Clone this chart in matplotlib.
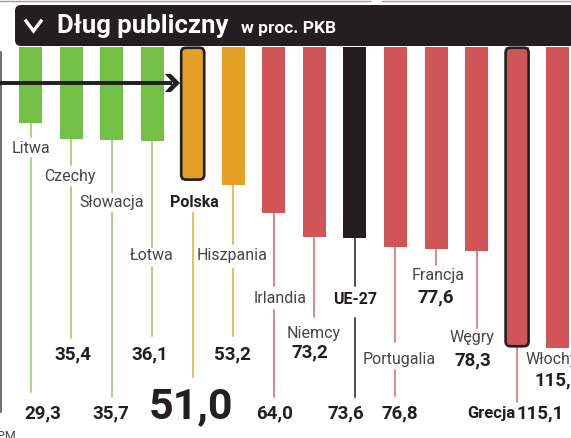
import matplotlib
matplotlib.use("Agg")
import matplotlib.pyplot as plt
import matplotlib.transforms as mtransforms
from matplotlib.patches import FancyBboxPatch, Polygon

plt.rcParams["font.family"] = ["Roboto", "DejaVu Sans"]

countries = ["Litwa", "Czechy", "Słowacja", "Łotwa", "Polska", "Hiszpania", "Irlandia",
             "Niemcy", "UE-27", "Portugalia", "Francja", "Węgry", "Grecja", "Włochy"]
values = [29.3, 35.4, 35.7, 36.1, 51.0, 53.2, 64.0, 73.2, 73.6, 76.8, 77.6, 78.3, 115.1, 115.8]
groups = ["low", "low", "low", "low", "mid", "mid", "high", "high", "eu", "high", "high",
          "high", "high", "high"]
highlighted = ["Polska", "Grecja"]
bold_names = ["Polska", "UE-27", "Grecja"]

title = "Dług publiczny"
subtitle = "w proc. PKB"

BAR = {"low": "#74bf45", "mid": "#e4a125", "high": "#d15557", "eu": "#231f20"}
LINE = {"low": "#8ccd63", "mid": "#e8a531", "high": "#d9676a", "eu": "#231f20"}
DARK = "#231f20"
GREY = "#454545"

W, H = 571, 438
k, top0 = 2.6, 47          # pixels per percentage point, top of bars
x0, step = 30.5, 40.55     # first bar centre, bar spacing (px)

# layout (pixels): name x, name baseline, value x, value baseline, line end, gap (top, bottom)
layout = {
    "Litwa":      dict(nx=31, ny=153, vx=43, vy=418, end=392, gap=(137, 158)),
    "Czechy":     dict(nx=70, ny=181, vx=73, vy=359, end=338, gap=(165, 187)),
    "Słowacja":   dict(nx=112, ny=207, vx=111, vy=418, end=397, gap=(192, 213)),
    "Łotwa":      dict(nx=152, ny=260, vx=150, vy=359, end=336, gap=(247, 267)),
    "Polska":     dict(nx=194, ny=207, vx=191, vy=418, end=377, gap=(180, 213)),
    "Hiszpania":  dict(nx=232, ny=260, vx=232, vy=359, end=336, gap=(244, 269)),
    "Irlandia":   dict(nx=280, ny=303, vx=275, vy=418, end=397, gap=(286, 310)),
    "Niemcy":     dict(nx=314, ny=338, vx=310, vy=357, end=317, gap=None),
    "UE-27":      dict(nx=355, ny=304, vx=346, vy=418, end=397, gap=(286, 318)),
    "Portugalia": dict(nx=399, ny=364, vx=400, vy=418, end=396, gap=(342, 370)),
    "Francja":    dict(nx=438, ny=280, vx=436, vy=302, end=265, gap=None),
    "Węgry":      dict(nx=472, ny=342, vx=473, vy=365, end=328, gap=None),
    "Grecja":     dict(nx=515, ny=418, vx=517, vy=418, end=402, gap=None),
    "Włochy":     dict(nx=526, ny=364, vx=534, vy=385, end=None, gap=None),
}


def to_y(py):
    return (py - top0) / k


fig = plt.figure(figsize=(W / 100, H / 100), dpi=100)
ax = fig.add_axes([0, 0, 1, 1])
ax.set_xlim(-x0 / step, (W - x0) / step)
ax.set_ylim((H - top0) / k, -top0 / k)
ax.axis("off")

pix = mtransforms.Affine2D().scale(1 / W, -1 / H).translate(0, 1) + fig.transFigure

idx = list(range(len(countries)))
bw = 23 / step
colors = [BAR[g] for g in groups]
ax.bar(idx, values, width=bw, color=colors, zorder=2)

for i, (name, val, g) in enumerate(zip(countries, values, groups)):
    if name in highlighted:
        box = FancyBboxPatch((i - bw / 2, 0.3), bw, val - 0.3,
                             boxstyle="round,pad=0,rounding_size=0.12",
                             mutation_aspect=step / k, facecolor=BAR[g],
                             edgecolor=DARK, linewidth=1.9, zorder=3)
        ax.add_patch(box)

    lay = layout[name]
    if lay["end"] is not None:
        lc = LINE[g]
        if lay["gap"] is None:
            ax.plot([i, i], [val, to_y(lay["end"])], color=lc, lw=1.1, zorder=1)
        else:
            ax.plot([i, i], [val, to_y(lay["gap"][0])], color=lc, lw=1.1, zorder=1)
            ax.plot([i, i], [to_y(lay["gap"][1]), to_y(lay["end"])], color=lc, lw=1.1, zorder=1)

    label = f"{val:.1f}".replace(".", ",")
    if name == "Grecja":
        ax.text(lay["nx"], lay["ny"], name, transform=pix, ha="right", va="baseline",
                fontsize=12, fontweight="bold", color=DARK)
        ax.text(lay["vx"], lay["vy"], label, transform=pix, ha="left", va="baseline",
                fontsize=13.5, fontweight="bold", color=DARK)
        continue
    ha = "left" if name == "Włochy" else "center"
    if name in bold_names:
        ax.text(lay["nx"], lay["ny"], name, transform=pix, ha=ha, va="baseline",
                fontsize=11.5, fontweight="bold", color=DARK)
    else:
        ax.text(lay["nx"], lay["ny"], name, transform=pix, ha=ha, va="baseline",
                fontsize=11.5, color=GREY)
    size = 31 if name == "Polska" else 13.5
    ax.text(lay["vx"], lay["vy"], label, transform=pix, ha=ha, va="baseline",
            fontsize=size, fontweight="bold", color=DARK)

# arrow pointing at Poland
ax.plot([0, 172], [82.5, 82.5], transform=pix, color=DARK, lw=2.8, zorder=4,
        solid_capstyle="butt")
ax.add_patch(Polygon([(165, 74), (171, 74), (180, 83), (171, 92), (165, 92), (173, 83)],
                     closed=True, transform=pix, facecolor=DARK, edgecolor="none", zorder=4))

# frame pieces
ax.plot([0.8, 0.8], [52, 412], transform=pix, color="#555555", lw=1.2)
ax.plot([0, 370], [1, 1], transform=pix, color="#9a9a9a", lw=1.0)
ax.plot([382, W], [1, 1], transform=pix, color="#9a9a9a", lw=1.0)
ax.text(-3, 440, "PM", transform=pix, ha="left", va="baseline", fontsize=9, color=GREY)

# title bar
bar = FancyBboxPatch((15, 5), 600, 41, boxstyle="round,pad=0,rounding_size=6",
                     transform=pix, facecolor=DARK, edgecolor="none", zorder=6)
ax.add_patch(bar)
ax.plot([26, 33.5, 41], [21, 31, 21], transform=pix, color="white", lw=2.4, zorder=7,
        solid_joinstyle="miter")
ax.text(57, 33, title, transform=pix, ha="left", va="baseline", fontsize=18.5,
        fontweight="bold", color="white", zorder=7)
ax.text(241, 33, subtitle, transform=pix, ha="left", va="baseline", fontsize=12.5,
        fontweight="bold", color="white", zorder=7)

fig.savefig("out.png", dpi=100)
